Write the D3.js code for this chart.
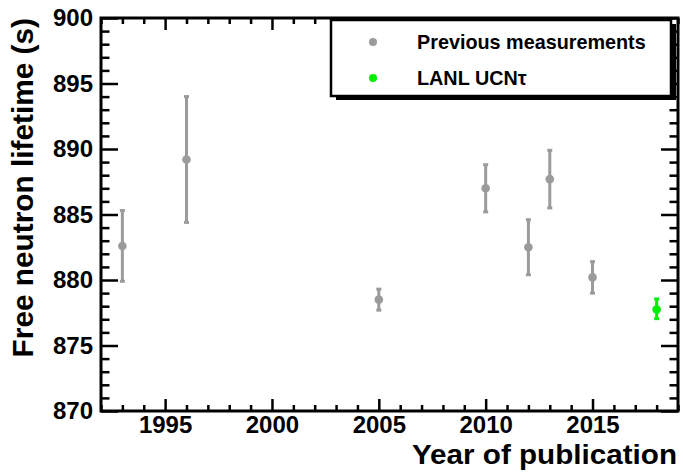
<!DOCTYPE html>
<html>
<head>
<meta charset="utf-8">
<script src="https://cdn.jsdelivr.net/npm/d3@7"></script>
<style>
  html, body { margin: 0; padding: 0; background: #fff; }
  svg { display: block; }
  text { font-family: "Liberation Sans", Arial, Helvetica, sans-serif; font-weight: bold; }
</style>
</head>
<body>
<svg id="chart" width="683" height="474"></svg>
<script>
// ---- data ----
const prevYears = [1993, 1996, 2005, 2010, 2012, 2013, 2015];
const prevValues = [882.6, 889.2, 878.5, 887.0, 882.5, 887.7, 880.2];
const prevErrors = [2.7, 4.8, 0.8, 1.8, 2.1, 2.2, 1.2];
const lanlYears = [2018];
const lanlValues = [877.75];
const lanlErrLow = [0.7];
const lanlErrHigh = [0.8];
const xMajorTicks = [1995, 2000, 2005, 2010, 2015];
const yMajorTicks = [870, 875, 880, 885, 890, 895, 900];
const legendLabels = ["Previous measurements", "LANL UCN\u03C4"];
const xTitle = "Year of publication";
const yTitle = "Free neutron lifetime (s)";

const grayCol = "#9b9b9b";
const greenCol = "#00ee00";

const svg = d3.select("#chart");
const L = 101, R = 678, T = 18, B = 411;
const x = d3.scaleLinear().domain([1992, 2019]).range([L, R]);
const y = d3.scaleLinear().domain([870, 900]).range([B, T]);

const xMinor = d3.range(1992, 2020, 1).filter(v => !xMajorTicks.includes(v));
const yMinor = d3.range(870, 901, 1).filter(v => !yMajorTicks.includes(v));

function styleAxis(g) {
  g.select(".domain").remove();
  g.selectAll(".tick line").attr("stroke", "#000").attr("stroke-width", 2.5);
  g.selectAll(".tick text").attr("fill", "#000").attr("font-size", 24);
}

// bottom axis
svg.append("g").attr("transform", `translate(0,${B})`)
  .call(d3.axisBottom(x).tickValues(xMajorTicks).tickFormat(d3.format("d")).tickSize(-12).tickPadding(5))
  .call(styleAxis);
svg.append("g").attr("transform", `translate(0,${B})`)
  .call(d3.axisBottom(x).tickValues(xMinor).tickFormat("").tickSize(-6))
  .call(styleAxis);
// top axis
svg.append("g").attr("transform", `translate(0,${T})`)
  .call(d3.axisTop(x).tickValues(xMajorTicks).tickFormat("").tickSize(-12))
  .call(styleAxis);
svg.append("g").attr("transform", `translate(0,${T})`)
  .call(d3.axisTop(x).tickValues(xMinor).tickFormat("").tickSize(-6))
  .call(styleAxis);
// left axis
svg.append("g").attr("transform", `translate(${L},0)`)
  .call(d3.axisLeft(y).tickValues(yMajorTicks).tickFormat(d3.format("d")).tickSize(-17).tickPadding(8))
  .call(styleAxis);
svg.append("g").attr("transform", `translate(${L},0)`)
  .call(d3.axisLeft(y).tickValues(yMinor).tickFormat("").tickSize(-8.5))
  .call(styleAxis);
// right axis
svg.append("g").attr("transform", `translate(${R},0)`)
  .call(d3.axisRight(y).tickValues(yMajorTicks).tickFormat("").tickSize(-17))
  .call(styleAxis);
svg.append("g").attr("transform", `translate(${R},0)`)
  .call(d3.axisRight(y).tickValues(yMinor).tickFormat("").tickSize(-8.5))
  .call(styleAxis);

// frame
svg.append("rect").attr("x", L).attr("y", T).attr("width", R - L).attr("height", B - T)
  .attr("fill", "none").attr("stroke", "#000").attr("stroke-width", 3);

// data
function drawSeries(xs, vs, lo, hi, col) {
  const g = svg.append("g");
  xs.forEach((yr, i) => {
    const cx = x(yr);
    const yTop = y(vs[i] + hi[i]);
    const yBot = y(vs[i] - lo[i]);
    g.append("line").attr("x1", cx).attr("x2", cx).attr("y1", yTop).attr("y2", yBot)
      .attr("stroke", col).attr("stroke-width", 3);
    [yTop, yBot].forEach(yy => {
      g.append("rect").attr("x", cx - 2.5).attr("y", yy - 1.5).attr("width", 5).attr("height", 3).attr("fill", col);
    });
    g.append("circle").attr("cx", cx).attr("cy", y(vs[i])).attr("r", 4.3).attr("fill", col);
  });
}
drawSeries(prevYears, prevValues, prevErrors, prevErrors, grayCol);
drawSeries(lanlYears, lanlValues, lanlErrLow, lanlErrHigh, greenCol);

// legend
const lx0 = 331, ly0 = 20, lx1 = 671, ly1 = 96;
svg.append("rect").attr("x", lx0 + 5).attr("y", ly0 + 4).attr("width", lx1 - lx0).attr("height", ly1 - ly0).attr("fill", "#000");
svg.append("rect").attr("x", lx0).attr("y", ly0).attr("width", lx1 - lx0).attr("height", ly1 - ly0)
  .attr("fill", "#fff").attr("stroke", "#000").attr("stroke-width", 2.5);
const legCols = [grayCol, greenCol];
const legY = [42, 78];
legendLabels.forEach((lab, i) => {
  svg.append("circle").attr("cx", 373).attr("cy", legY[i]).attr("r", 4).attr("fill", legCols[i]);
  svg.append("text").attr("x", 417).attr("y", legY[i] + 7).attr("font-size", 19.8).attr("fill", "#000").text(lab);
});

// axis titles
svg.append("text").attr("x", 677).attr("y", 464).attr("text-anchor", "end")
  .attr("font-size", 28).attr("textLength", 265).attr("lengthAdjust", "spacingAndGlyphs")
  .attr("fill", "#000").text(xTitle);
svg.append("text").attr("transform", "translate(33,18) rotate(-90)").attr("text-anchor", "end")
  .attr("font-size", 29.8).attr("fill", "#000").text(yTitle);
</script>
</body>
</html>
